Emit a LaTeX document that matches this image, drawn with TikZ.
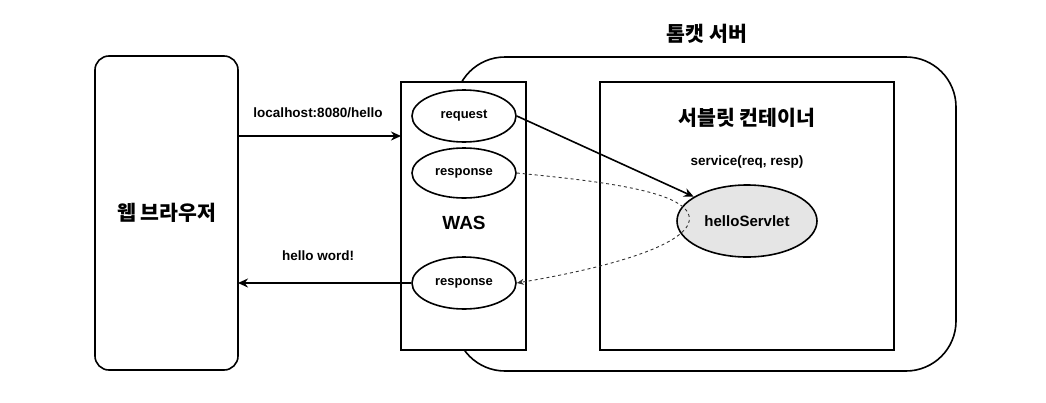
\documentclass[tikz,border=0pt]{standalone}
\usepackage{fontspec}
\setmainfont{Liberation Sans}
\newfontfamily\kofont{Noto Sans CJK KR}
\usetikzlibrary{shapes.geometric,arrows.meta}

\begin{document}
\begin{tikzpicture}[x=1pt,y=-1pt,
    box/.style={draw, line width=1.6pt, inner sep=0pt, outer sep=0pt},
    oval/.style={ellipse, draw, line width=1.6pt, fill=white, inner sep=0pt,
      minimum width=104pt, minimum height=52pt, font=\bfseries\fontsize{13}{15}\selectfont},
    lbl/.style={font=\bfseries\fontsize{13.5}{15}\selectfont},
    kor/.style={font=\kofont\bfseries\fontsize{20.5}{22}\selectfont},
    flow/.style={line width=1.6pt, -{Stealth[length=10pt,width=9pt]}},
    back/.style={draw=black!80, line width=0.9pt, dash pattern=on 3pt off 3pt,
      -{Stealth[length=7pt,width=6pt]}}]
  \useasboundingbox (0,0) rectangle (1046,402);

  % Browser and server boxes
  \node[box, rounded corners=14pt, minimum width=143pt, minimum height=314pt, kor]
    (browser) at (166.5,213) {웹 브라우저};
  \node[box, rounded corners=50pt, minimum width=501pt, minimum height=314pt]
    (tomcat) at (705.5,214) {};
  \node[kor] (tomcattitle) at (707,34) {톰캣 서버};

  % WAS
  \node[box, fill=white, minimum width=125pt, minimum height=268pt] (was) at (463.5,216) {};
  \node[font=\bfseries\fontsize{19}{21}\selectfont] (wastext) at (464,223) {WAS};
  \node[oval] (req) at (464,116) {request};
  \node[oval, minimum height=50pt] (resp1) at (464,173) {response};
  \node[oval] (resp2) at (464,283) {response};

  % Servlet container
  \node[box, minimum width=294pt, minimum height=268pt] (container) at (747,216) {};
  \node[kor] (containertitle) at (747,118) {서블릿 컨테이너};
  \node[lbl] (service) at (747,162) {service(req, resp)};
  \node[oval, fill=black!10, minimum width=140pt, minimum height=72pt,
    font=\bfseries\fontsize{15}{17}\selectfont] (hs) at (747,221) {helloServlet};

  % Flows
  \node[lbl] (url) at (318,113) {localhost:8080/hello};
  \draw[flow] (browser.east |- 0,136) -- (was.west |- 0,136);
  \node[lbl] (answer) at (318,256) {hello word!};
  \draw[flow] (resp2.west) -- (resp2.west -| browser.east);
  \draw[flow] (req.east) -- (hs);
  \coordinate (turn) at ([xshift=13pt]hs.west);
  \draw[back] (resp1.east) .. controls +(80,8) and +(5,-30) .. (turn)
    .. controls +(-5,25) and +(90,-15) .. (resp2.east);
\end{tikzpicture}
\end{document}
